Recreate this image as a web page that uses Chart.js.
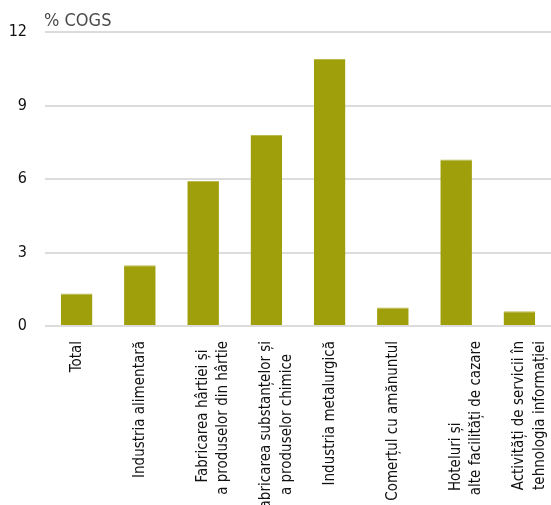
<!DOCTYPE html>
<html>
<head>
<meta charset="utf-8">
<script src="https://cdn.jsdelivr.net/npm/chart.js@4"></script>
<style>
  html, body { margin: 0; padding: 0; background: #fff; }
  #wrap { width: 551px; height: 505px; position: relative; }
</style>
</head>
<body>
<div id="wrap"><canvas id="c"></canvas></div>
<script>
// ── Data ─────────────────────────────────────────────────────────────────────

// trailing spaces centre the shorter line of a two-line label, as in the source
const CATEGORIES = [
  'Total',
  'Industria alimentară',
  ['Fabricarea hârtiei și  ', 'a produselor din hârtie'],
  ['Fabricarea substanțelor și', 'a produselor chimice   '],
  'Industria metalurgică',
  'Comerțul cu amănuntul',
  ['Hoteluri și                   ', 'alte facilități de cazare'],
  ['Activități de servicii în', 'tehnologia informației'],
];

const VALUES = [1.33, 2.48, 5.92, 7.8, 10.9, 0.76, 6.8, 0.6];

const Y_TICKS = [0, 3, 6, 9, 12];
const UNIT_LABEL = '% COGS';

// ── Style ────────────────────────────────────────────────────────────────────

const FONT = '"DejaVu Sans Condensed", "Liberation Sans Narrow", sans-serif';
const BAR = '#9f9f0b';
const GRID = '#dcdcdc';

// unit label above the top gridline
const unitLabel = {
  id: 'unitLabel',
  afterDraw(chart) {
    const { ctx, chartArea } = chart;
    ctx.save();
    ctx.font = `300 18px ${FONT}`;
    ctx.fillStyle = '#4a4a4a';
    ctx.textAlign = 'left';
    ctx.textBaseline = 'bottom';
    ctx.fillText(UNIT_LABEL, chartArea.left - 1, chartArea.top - 2);
    ctx.restore();
  },
};

new Chart(document.getElementById('c'), {
  type: 'bar',
  data: {
    labels: CATEGORIES,
    datasets: [{
      data: VALUES,
      backgroundColor: BAR,
      borderColor: '#b9b94c',
      borderWidth: { top: 1, left: 0, right: 0, bottom: 0 },
      borderSkipped: 'start',
      barPercentage: 1,
      categoryPercentage: 0.5,
    }],
  },
  options: {
    responsive: true,
    maintainAspectRatio: false,
    animation: false,
    layout: { padding: { top: 32, right: -4, left: 0, bottom: 0 } },
    plugins: {
      legend: { display: false },
      tooltip: { enabled: false },
    },
    scales: {
      x: {
        grid: { display: false, drawTicks: false },
        border: { display: false },
        ticks: {
          color: '#111',
          font: { family: FONT, size: 15, lineHeight: 1.35 },
          minRotation: 90,
          maxRotation: 90,
          autoSkip: false,
          padding: 15,
        },
        afterFit(scale) {
          scale.height = 179;
          scale.paddingLeft = 0;
          scale.paddingRight = 0;
        },
      },
      y: {
        min: 0,
        max: 12,
        afterBuildTicks(scale) { scale.ticks = Y_TICKS.map(v => ({ value: v })); },
        grid: { color: GRID, lineWidth: 2, drawTicks: false },
        border: { display: false },
        ticks: {
          color: '#111',
          font: { family: FONT, size: 16 },
          padding: 18,
        },
        afterFit(scale) { scale.width = 45; },
      },
    },
  },
  plugins: [unitLabel],
});
</script>
</body>
</html>
